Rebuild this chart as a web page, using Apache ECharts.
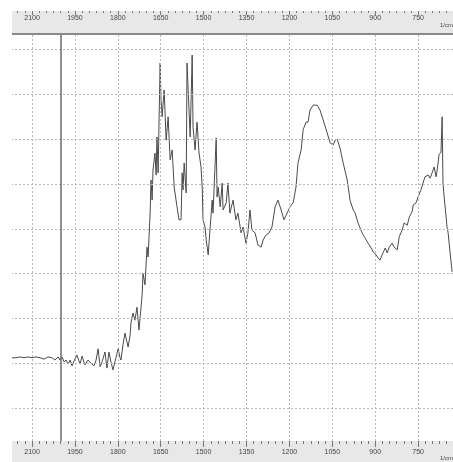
<!DOCTYPE html>
<html>
<head>
<meta charset="utf-8">
<script src="https://cdn.jsdelivr.net/npm/echarts@6/dist/echarts.min.js"></script>
<style>
  html, body { margin: 0; padding: 0; background: #fff; }
  #chart { width: 453px; height: 462px; }
</style>
</head>
<body>
<div id="chart"></div>
<script>
// spectrum (wavenumber 1/cm, intensity in arbitrary units)
const wavenumbers = [
  2170, 2156, 2142, 2128, 2114, 2100, 2086, 2072, 2058, 2044, 2030, 2020, 2009, 2002, 1995, 1988,
  1981, 1974, 1967, 1960, 1953, 1943, 1932, 1925, 1915, 1904, 1894, 1883, 1876, 1869, 1862, 1855,
  1845, 1838, 1831, 1824, 1817, 1810, 1799, 1792, 1789, 1782, 1775, 1764, 1757, 1754, 1747, 1740,
  1733, 1726, 1715, 1712, 1705, 1698, 1694, 1687, 1684, 1680, 1677, 1670, 1666, 1663, 1659, 1656,
  1652, 1649, 1645, 1638, 1631, 1624, 1617, 1610, 1603, 1593, 1586, 1579, 1575, 1572, 1568, 1561,
  1558, 1554, 1547, 1540, 1537, 1530, 1523, 1516, 1509, 1505, 1502, 1495, 1491, 1484, 1477, 1470,
  1467, 1456, 1453, 1449, 1442, 1435, 1432, 1421, 1415, 1408, 1397, 1387, 1380, 1369, 1362, 1352,
  1345, 1338, 1331, 1320, 1310, 1299, 1292, 1282, 1271, 1261, 1250, 1240, 1229, 1219, 1208, 1198,
  1187, 1177, 1170, 1159, 1152, 1142, 1135, 1128, 1117, 1103, 1093, 1082, 1068, 1058, 1047, 1040,
  1033, 1023, 1012, 998, 988, 977, 970, 960, 946, 935, 925, 914, 907, 897, 890, 883,
  876, 865, 858, 851, 841, 834, 823, 816, 806, 799, 788, 781, 771, 767, 757, 750,
  740, 733, 726, 715, 708, 701, 694, 687, 680, 677, 670, 666, 663, 659, 652, 649,
  645, 638, 631
];
const intensity = [
  11.2, 11.2, 11.4, 11.2, 11.4, 11.2, 11.4, 11.2, 10.9, 11.4, 11.2, 10.7, 11.4, 10.7, 11.4, 10.3,
  10.7, 9.8, 10.7, 9.4, 10.5, 11.8, 9.8, 11.6, 9.6, 10.7, 10.0, 9.4, 10.7, 13.2, 9.2, 10.3,
  12.5, 8.9, 12.5, 10.3, 8.5, 10.3, 13.2, 11.2, 10.7, 14.1, 16.7, 13.6, 16.3, 19.0, 21.2, 19.6,
  22.5, 17.4, 25.2, 30.1, 27.5, 35.9, 33.7, 43.5, 50.9, 46.4, 53.1, 56.9, 52.0, 60.5, 52.5, 63.6,
  77.0, 68.8, 65.0, 71.0, 59.8, 65.0, 55.4, 57.6, 49.3, 44.9, 42.0, 42.0, 52.5, 48.7, 54.7, 48.0,
  77.0, 71.0, 60.5, 78.8, 62.7, 57.6, 63.8, 56.9, 53.8, 49.3, 42.0, 40.4, 37.5, 34.2, 40.4, 46.4,
  43.5, 60.3, 47.1, 49.3, 44.9, 50.2, 44.2, 45.8, 50.2, 43.5, 46.4, 42.0, 43.5, 39.1, 40.4, 36.8,
  39.1, 44.2, 39.7, 39.1, 36.4, 35.9, 37.5, 38.6, 39.1, 40.4, 44.9, 46.4, 44.2, 42.0, 43.5, 44.9,
  45.8, 49.3, 54.7, 57.6, 62.1, 63.8, 63.8, 66.5, 67.6, 67.6, 66.5, 64.3, 61.4, 59.2, 58.7, 59.8,
  60.0, 58.0, 54.7, 50.9, 46.4, 44.2, 43.5, 41.3, 39.1, 37.9, 36.8, 35.7, 34.8, 34.2, 33.5, 33.0,
  34.2, 35.7, 34.6, 35.9, 36.8, 35.9, 35.3, 38.2, 39.7, 41.3, 40.8, 42.6, 43.8, 45.3, 45.8, 47.1,
  48.7, 50.2, 51.6, 52.0, 51.3, 52.5, 53.8, 51.6, 54.7, 56.5, 57.1, 65.0, 50.2, 47.1, 42.6, 40.4,
  39.1, 34.6, 30.4
];
const labelTicks = [2100, 1950, 1800, 1650, 1500, 1350, 1200, 1050, 900, 750];
const gridLevels = [0, 10, 20, 30, 40, 50, 60, 70, 80];
const cursorAt = 2000;

const minorTicks = [];
for (let w = 650; w <= 2150; w += 25) minorTicks.push(w);

const X_MIN = 628, X_MAX = 2170;
const labelColor = '#444';
const font = 'Liberation Sans';

const chart = echarts.init(document.getElementById('chart'));

function xAxisDef(position, offset, ticks, len, withLabels, inside) {
  return {
    type: 'value',
    gridIndex: 0,
    position: position,
    offset: offset,
    min: X_MIN,
    max: X_MAX,
    inverse: true,
    axisLine: { show: false, onZero: false },
    splitLine: { show: false },
    axisTick: {
      show: true,
      inside: inside,
      length: len,
      customValues: ticks,
      lineStyle: { color: '#777', width: 1 },
    },
    axisLabel: withLabels
      ? {
          show: true,
          inside: inside,
          customValues: labelTicks,
          margin: inside ? 4 : 8,
          color: labelColor,
          fontSize: 7,
          fontFamily: font,
          formatter: (v) => String(v),
        }
      : { show: false },
  };
}

const gridLines = gridLevels.map((v) => ({ yAxis: v }))
  .concat(labelTicks.map((w) => ({ xAxis: w })));

chart.setOption({
  animation: false,
  backgroundColor: '#fff',
  graphic: [
    { type: 'rect', z: -10, shape: { x: 12, y: 11, width: 441, height: 22 }, style: { fill: '#e8e8e8' } },
    { type: 'rect', z: -10, shape: { x: 12, y: 33, width: 441, height: 2 }, style: { fill: '#8a8a8a' } },
    { type: 'rect', z: -10, shape: { x: 12, y: 441, width: 441, height: 21 }, style: { fill: '#e8e8e8' } },
    { type: 'text', left: 440, top: 22, style: { text: '1/cm', fill: labelColor, font: '6px ' + font } },
    { type: 'text', left: 440, top: 455, style: { text: '1/cm', fill: labelColor, font: '6px ' + font } },
  ],
  grid: { left: 12, right: 0, top: 35, bottom: 21, containLabel: false },
  xAxis: [
    xAxisDef('bottom', 0, minorTicks, 3, false, false),
    xAxisDef('bottom', 0, labelTicks, 6, true, false),
    xAxisDef('top', 24, minorTicks, 2, false, true),
    xAxisDef('top', 24, labelTicks, 4, true, true),
  ],
  yAxis: {
    type: 'value',
    min: -7.37,
    max: 83.26,
    show: false,
    splitLine: { show: false },
  },
  series: [
    {
      type: 'line',
      xAxisIndex: 0,
      data: wavenumbers.map((w, i) => [w, intensity[i]]),
      showSymbol: false,
      lineStyle: { color: '#4a4a4a', width: 1 },
      markLine: {
        silent: true,
        symbol: ['none', 'none'],
        label: { show: false },
        lineStyle: { color: '#b8b8b8', type: [2, 2], width: 1 },
        data: gridLines.concat([
          { xAxis: cursorAt, lineStyle: { color: '#6a6a6a', type: 'solid', width: 1.5 } },
        ]),
      },
      z: 3,
    },
  ],
});
</script>
</body>
</html>
